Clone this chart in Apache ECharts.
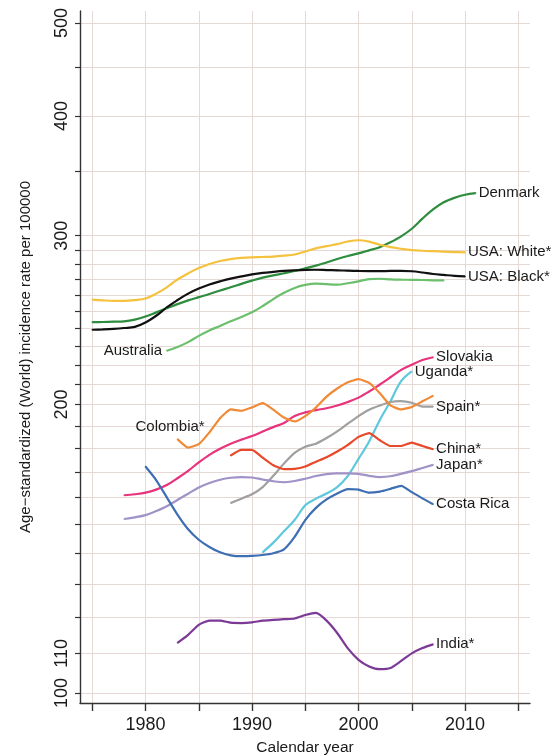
<!DOCTYPE html>
<html><head><meta charset="utf-8">
<script src="https://cdn.jsdelivr.net/npm/echarts@6/dist/echarts.min.js"></script>
<style>html,body{margin:0;padding:0;background:#fff}#c{width:555px;height:756px}</style>
</head><body><div id="c"></div>
<script>
// ---- tick values ----
const yTickValues = [100,110,120,130,140,150,160,170,180,190,200,210,220,230,240,250,260,270,280,290,300,350,400,450,500];
const yLabelValues = [100,110,200,300,400,500];
const xTickValues = [1975,1980,1985,1990,1995,2000,2005,2010,2015];
const xLabelValues = [1980,1990,2000,2010];

// ---- series data (rate per 100000), one value per calendar year from start year ----
const denmarkStart = 1975;
const denmark = [243.7,243.8,244,244.2,245.2,247,249.5,252,254.5,256.8,258.8,260.8,263,265,267.2,269.3,271.2,272.7,274.1,275.6,277.4,279.2,281.3,283.6,285.7,287.5,289.6,291.8,295.3,299.5,305,312.5,319.5,325,328.5,331,332.3];
const usaWhiteStart = 1975;
const usaWhite = [257.3,256.8,256.5,256.5,257,258,261,265,270,274,277.5,280.3,282.3,283.6,284.4,284.8,285,285.3,285.9,286.7,288.8,291,292.5,294,295.8,296.7,295.7,293.5,291.8,290.7,289.8,289.3,289,288.7,288.4,288.2];
const usaBlackStart = 1975;
const usaBlack = [239.3,239.5,239.8,240.3,241,243.5,247.5,252.5,257,261,264.2,266.8,268.8,270.6,272,273.3,274.3,275,275.6,276,276.3,276.4,276.2,276,275.8,275.6,275.5,275.5,275.6,275.6,275.4,274.6,273.6,273,272.4,272];
const australiaStart = 1982;
const australia = [227.5,229.6,232.3,235.8,238.9,241.5,244.2,246.8,249.6,253.3,257.6,261.5,264.6,266.5,267.4,267,266.7,267.6,268.8,270.3,270.5,270.1,269.9,269.8,269.7,269.5,269.4];
const slovakiaStart = 1978;
const slovakia = [160.8,161.2,161.8,163,164.8,167.5,170.5,174,177.2,179.8,182,183.8,185.4,187.4,189.4,191.3,194.5,196.2,197.3,198.2,199.5,201.2,203.3,206.3,209.8,213.5,217.3,220,222.5,224];
const ugandaStart = 1991;
const uganda = [140.2,143.5,147.5,151.5,157,159.5,161.5,164,168.5,175.5,183,192.7,201.5,211.5,216.5];
const spainStart = 1988;
const spain = [157.8,159.5,161.2,164,168.5,173.5,178,180.7,182,184.5,187.5,191,194.5,197.5,199.5,201.2,201.6,200.8,199,199];
const colombiaStart = 1983;
const colombia = [184,180.3,181.8,187,193.5,197.6,197,198.6,200.6,197.5,193.8,192,194.5,198.5,203.8,207.8,211,212.5,210.6,205.5,199.5,197.6,198.8,201.5,204.2];
const chinaStart = 1988;
const china = [176.9,179.3,179.3,176,172.8,171.2,171.3,172.3,174.3,176.2,178.6,181.5,185,186.7,183.5,181,181,182.5,181,179.6];
const japanStart = 1978;
const japan = [151.9,152.5,153.3,154.8,156.6,159,161.4,163.8,165.6,166.9,167.7,168,167.8,167,166.3,165.9,166.4,167.3,168.4,169.2,169.5,169.5,169.3,168.5,168,168.3,169.3,170.4,171.7,173];
const costaRicaStart = 1980;
const costaRica = [172.3,166.8,160,153.5,148.2,144.5,142,140.2,139.2,138.9,139,139.3,139.9,141.2,145.5,151.5,156,159.2,161.5,163.2,163,161.8,162.2,163.3,164.5,162,159.6,157.4];
const indiaStart = 1983;
const india = [112.8,115,117.8,119,119,118.4,118.3,118.5,119,119.2,119.4,119.6,120.6,121.2,119,115.5,111.3,108.3,106.6,105.9,106.2,108,110,111.4,112.4];

const FONT = "'Liberation Sans', Arial, Helvetica, sans-serif";
const TXT = '#1a1a1a';

const defs = [
  {name:'Denmark', start:denmarkStart, values:denmark, color:'#2f8d3f', smooth:0.35, lab:'end'},
  {name:'USA: White*', start:usaWhiteStart, values:usaWhite, color:'#f5c23f', smooth:0.35, lab:'end'},
  {name:'USA: Black*', start:usaBlackStart, values:usaBlack, color:'#111111', smooth:0.35, lab:'end'},
  {name:'Australia', start:australiaStart, values:australia, color:'#6cbf6c', smooth:0.35, lab:'start'},
  {name:'Slovakia', start:slovakiaStart, values:slovakia, color:'#e8347c', smooth:0.35, lab:'end'},
  {name:'Uganda*', start:ugandaStart, values:uganda, color:'#5ec8dc', smooth:0.35, lab:'end'},
  {name:'Spain*', start:spainStart, values:spain, color:'#a0a0a0', smooth:0.2, lab:'end'},
  {name:'Colombia*', start:colombiaStart, values:colombia, color:'#f08a36', smooth:0.15, lab:'colombia'},
  {name:'China*', start:chinaStart, values:china, color:'#e8492b', smooth:0.15, lab:'end'},
  {name:'Japan*', start:japanStart, values:japan, color:'#a093c8', smooth:0.35, lab:'end'},
  {name:'Costa Rica', start:costaRicaStart, values:costaRica, color:'#3f6fb3', smooth:0.2, lab:'end'},
  {name:'India*', start:indiaStart, values:india, color:'#7b3a96', smooth:0.2, lab:'end'}
];

const labelStyle = {color:TXT, fontSize:15, fontFamily:FONT};

const series = defs.map(d => {
  const data = d.values.map((v,i) => ({value:[d.start+i, Math.log10(v)]}));
  if (d.lab === 'start') {
    data[0].label = Object.assign({show:true, position:'left', distance:4, formatter:d.name}, labelStyle);
  } else if (d.lab === 'colombia') {
    data[0].label = Object.assign({show:true, position:'left', distance:0, offset:[28,-12], formatter:d.name}, labelStyle);
  }
  const s = {
    type:'line', name:d.name, data, showSymbol:true, showAllSymbol:true, symbol:'circle', symbolSize:1.5,
    smooth:d.smooth, label:{show:false},
    lineStyle:{color:d.color, width:2.2}, itemStyle:{color:d.color, borderWidth:0}, silent:true, z:3
  };
  if (d.lab === 'end') {
    s.endLabel = Object.assign({show:true, formatter:'{a}', distance:3}, labelStyle);
  }
  return s;
});

const yMin = 2 - 10/958.6;
const yMax = Math.log10(500) + 12/958.6;

const chart = echarts.init(document.getElementById('c'), null, {renderer:'canvas'});
chart.setOption({
  animation:false,
  backgroundColor:'#ffffff',
  grid:{left:80, right:25, top:11, bottom:53, containLabel:false, outerBoundsMode:'none'},
  xAxis:{
    type:'value', min:1973.85, max:2016.1,
    name:'Calendar year', nameLocation:'middle', nameGap:37,
    nameTextStyle:{color:TXT, fontSize:15.5, fontFamily:FONT},
    axisLine:{show:true, onZero:false, lineStyle:{color:'#333', width:1.4}},
    axisTick:{show:true, customValues:xTickValues, length:8, lineStyle:{color:'#333', width:1.4}},
    axisLabel:{customValues:xLabelValues, formatter:v=>String(Math.round(v)), color:TXT, fontSize:18, fontFamily:FONT, margin:13},
    splitLine:{show:true, lineStyle:{color:'#e6d8d4', width:1}}
  },
  yAxis:{
    type:'value', min:yMin, max:yMax,
    name:'Age\u2212standardized (World) incidence rate per 100000', nameLocation:'middle', nameGap:47,
    nameTextStyle:{color:TXT, fontSize:15, fontFamily:FONT},
    axisLine:{show:true, onZero:false, lineStyle:{color:'#333', width:1.4}},
    axisTick:{show:true, customValues:yTickValues.map(v=>Math.log10(v)), length:5, lineStyle:{color:'#333', width:1.2}},
    axisLabel:{customValues:yLabelValues.map(v=>Math.log10(v)), formatter:v=>String(Math.round(Math.pow(10,v))), rotate:90, color:TXT, fontSize:18, fontFamily:FONT, margin:9},
    splitLine:{show:true, lineStyle:{color:'#e6d8d4', width:1}}
  },
  series
});
</script>
</body></html>
